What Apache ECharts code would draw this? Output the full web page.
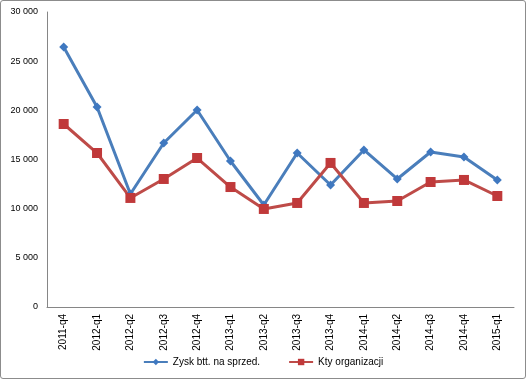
<!DOCTYPE html>
<html><head><meta charset="utf-8">
<script src="https://cdn.jsdelivr.net/npm/echarts@6/dist/echarts.min.js"></script>
<style>html,body{margin:0;padding:0;background:#fff}#c{width:526px;height:379px;box-sizing:border-box;border:1px solid #8c8c8c;border-radius:3px}</style>
</head><body><div id="c"></div>
<script>
const categories = ['2011-q4','2012-q1','2012-q2','2012-q3','2012-q4','2013-q1','2013-q2','2013-q3','2013-q4','2014-q1','2014-q2','2014-q3','2014-q4','2015-q1'];
const zysk = [26440, 20340, 11490, 16680, 20030, 14850, 10370, 15660, 12410, 15970, 13020, 15760, 15250, 12920];
const koszty = [18610, 15660, 11090, 13020, 15150, 12200, 9970, 10580, 14650, 10580, 10780, 12710, 12920, 11290];
const seriesNames = ['Zysk btt. na sprzed.', 'Kty organizacji'];
const chart = echarts.init(document.getElementById('c'));
const font = 'Liberation Sans, Arial, sans-serif';
chart.setOption({
  animation: false,
  grid: {left: 46, right: 11, top: 11, bottom: 71},
  legend: {bottom: 6, left: 'center', itemWidth: 24, itemHeight: 8, itemGap: 28,
    textStyle: {fontFamily: font, fontSize: 10, color: '#000'}, data: seriesNames},
  xAxis: {type: 'category', data: categories, boundaryGap: true,
    axisLine: {lineStyle: {color: '#868686'}}, axisTick: {show: false},
    axisLabel: {rotate: 90, fontFamily: font, fontSize: 10, color: '#000', margin: 7}},
  yAxis: {type: 'value', min: 0, max: 30000, interval: 5000,
    axisLine: {show: true, lineStyle: {color: '#868686'}}, axisTick: {show: false}, splitLine: {show: false},
    axisLabel: {fontFamily: font, fontSize: 9, color: '#000', margin: 9,
      formatter: v => String(v).replace(/\B(?=(\d{3})+(?!\d))/g, ' ')}},
  series: [
    {name: seriesNames[0], type: 'line', data: zysk, symbol: 'diamond', symbolSize: 9,
      lineStyle: {color: '#4a7ebb', width: 3}, itemStyle: {color: '#3f78c0'}},
    {name: seriesNames[1], type: 'line', data: koszty, symbol: 'rect', symbolSize: 10,
      lineStyle: {color: '#be4b48', width: 3}, itemStyle: {color: '#c0393a'}}
  ]
});
</script></body></html>
